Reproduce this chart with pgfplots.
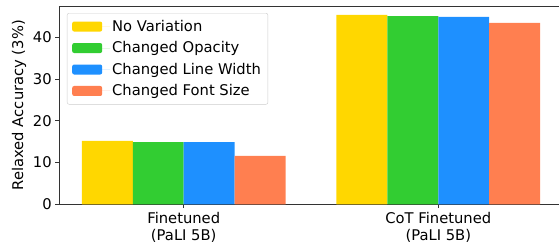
\documentclass[border=0pt]{standalone}
\usepackage{pgfplots}
\pgfplotsset{compat=1.18}
\usepackage{fontspec}
\setmainfont{DejaVu Sans}
\definecolor{cgold}{HTML}{FFD700}
\definecolor{cgreen}{HTML}{32CD32}
\definecolor{cblue}{HTML}{1E90FF}
\definecolor{ccoral}{HTML}{FF7F50}
\definecolor{spine}{HTML}{333333}
\begin{document}
\begin{tikzpicture}
\useasboundingbox (-59bp,-43.67bp) rectangle (500bp,204.33bp);
\begin{axis}[
  at={(0,0)}, anchor=south west,
  scale only axis, width=500bp, height=198.33bp,
  font=\fontsize{14.8}{17.2}\selectfont,
  /pgf/number format/assume math mode=true,
  ybar=0pt, bar width=0.2,
  xmin=-0.49, xmax=1.474, ymin=0, ymax=47.5,
  xtick={0,1},
  xticklabels={{Finetuned\\(PaLI 5B)},{CoT Finetuned\\(PaLI 5B)}},
  xticklabel style={align=center, font=\fontsize{14.8}{17.2}\selectfont, yshift=-0.5bp},
  ytick={0,10,20,30,40},
  tick align=outside, major tick length=3.8bp,
  xtick pos=bottom, ytick pos=left,
  tick style={draw=spine, line width=0.8pt},
  axis lines*=left,
  axis line style={-, draw=spine, line width=0.8pt},
  ylabel={Relaxed Accuracy (3\%)},
  ylabel style={at={(axis description cs:-0.08,0.5)}, anchor=center},
  legend style={at={(0,1)}, anchor=north west, xshift=8bp, yshift=-7bp,
    draw=black!20, rounded corners=2bp, fill=white,
    font=\fontsize{14.8}{17.2}\selectfont, row sep=4.8bp, inner xsep=5bp, inner ysep=5bp},
  legend cell align=left,
  legend image code/.code={\fill[#1] (0bp,-5bp) rectangle (30bp,5bp); \path (0bp,0bp) -- (38bp,0bp);},
  after end axis/.code={\draw[spine, line width=0.8pt] (rel axis cs:0,1) -- (rel axis cs:1,1);},
]
\addplot[fill=cgold, draw=none] coordinates {(0,15.17) (1,45.35)};
\addplot[fill=cgreen, draw=none] coordinates {(0,14.92) (1,45.1)};
\addplot[fill=cblue, draw=none] coordinates {(0,14.92) (1,44.87)};
\addplot[fill=ccoral, draw=none] coordinates {(0,11.58) (1,43.43)};
\legend{No Variation, Changed Opacity, Changed Line Width, Changed Font Size}
\end{axis}
\end{tikzpicture}
\end{document}
